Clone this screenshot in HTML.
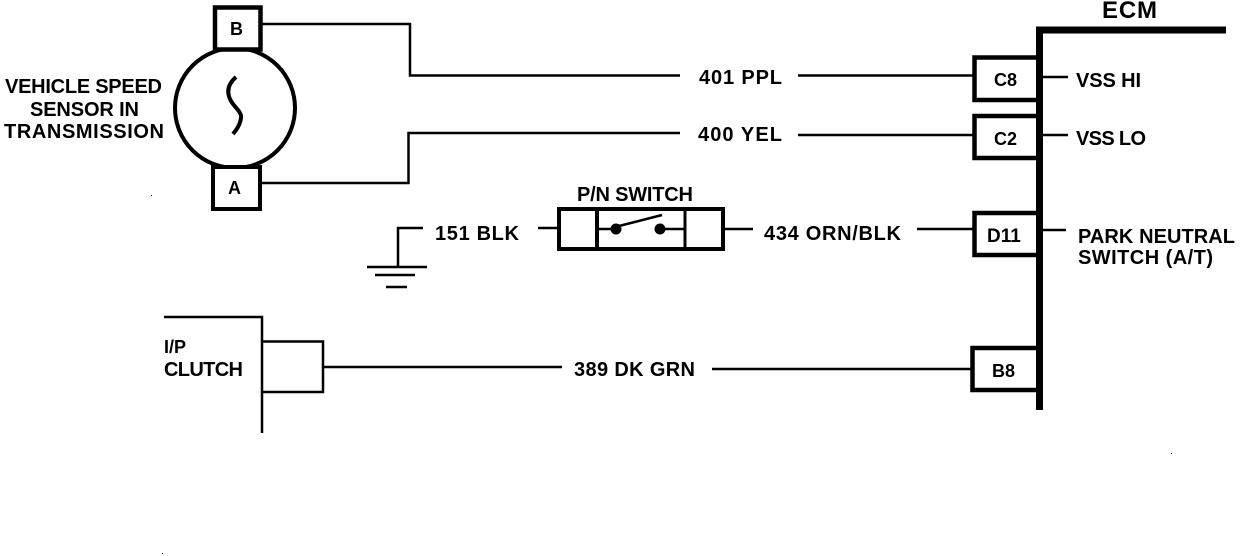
<!DOCTYPE html>
<html>
<head>
<meta charset="utf-8">
<style>
html,body{margin:0;padding:0;background:#fff;width:1248px;height:556px;overflow:hidden}
svg{display:block}
text{font-family:"Liberation Sans",sans-serif;font-weight:bold;fill:#000;font-size:20px}
</style>
</head>
<body>
<svg width="1248" height="556" viewBox="0 0 1248 556" xmlns="http://www.w3.org/2000/svg">
<g fill="none" stroke="#000" stroke-width="2.5">
  <!-- sensor -->
  <circle cx="235" cy="108" r="60" stroke-width="4"/>
  <rect x="215" y="7.5" width="45.5" height="42" fill="#fff" stroke-width="4.5"/>
  <rect x="213" y="167" width="47" height="42" fill="#fff" stroke-width="4"/>
  <path d="M236 77C228 84 226 92 231 101C235 108 242 112 241 118C240 125 237 129 233 134" stroke-width="4"/>
  <!-- wires -->
  <path d="M262 24H410V75.5H680"/>
  <path d="M261 183H408.5V133H680"/>
  <path d="M798 75.5H975"/>
  <path d="M798 135H975"/>
  <!-- ECM bar -->
  <path d="M1039.5 410V30H1226" stroke-width="7"/>
  <!-- ECM connectors -->
  <path d="M1038 57.5H974.5V100H1038" stroke-width="4.5"/>
  <path d="M1038 116H974.5V158H1038" stroke-width="4.5"/>
  <path d="M1038 213H974.5V255H1038" stroke-width="4.5"/>
  <path d="M1038 348H972.5V390H1038" stroke-width="4.5"/>
  <path d="M1042 77H1068"/>
  <path d="M1042 135H1068"/>
  <path d="M1042 230H1066"/>
  <!-- ground -->
  <path d="M423 228H398V267"/>
  <path d="M367 267H427"/>
  <path d="M375 275H415"/>
  <path d="M386 287H407"/>
  <path d="M538 228H558"/>
  <!-- P/N switch -->
  <rect x="559" y="209" width="164" height="40" stroke-width="4"/>
  <path d="M597 209V249" stroke-width="4"/>
  <path d="M685 209V249" stroke-width="3"/>
  <path d="M598 229H616"/>
  <path d="M661 229H684"/>
  <path d="M619 226L662 215"/>
  <circle cx="616" cy="229" r="5.5" fill="#000" stroke="none"/>
  <circle cx="660" cy="229" r="5.5" fill="#000" stroke="none"/>
  <path d="M725 229H753"/>
  <path d="M917 229H975"/>
  <!-- clutch -->
  <path d="M164 317H262V433"/>
  <path d="M262 341.5H323V392H262" stroke-width="2.5"/>
  <path d="M323 367H562"/>
  <path d="M712 369H973"/>
</g>
<g>
  <text x="5" y="93" textLength="157" lengthAdjust="spacing">VEHICLE SPEED</text>
  <text x="30" y="116" textLength="109" lengthAdjust="spacing">SENSOR IN</text>
  <text x="4" y="138" textLength="160" lengthAdjust="spacing">TRANSMISSION</text>
  <text x="230" y="35" style="font-size:18px">B</text>
  <text x="228" y="194" style="font-size:18px">A</text>
  <text x="699" y="84" textLength="83" lengthAdjust="spacing">401 PPL</text>
  <text x="698" y="141" textLength="84" lengthAdjust="spacing">400 YEL</text>
  <text x="435" y="240" textLength="84" lengthAdjust="spacing">151 BLK</text>
  <text x="577" y="201" textLength="116" lengthAdjust="spacing">P/N SWITCH</text>
  <text x="764" y="240" textLength="137" lengthAdjust="spacing">434 ORN/BLK</text>
  <text x="574" y="376" textLength="121" lengthAdjust="spacing">389 DK GRN</text>
  <text x="994" y="86" style="font-size:18px">C8</text>
  <text x="994" y="145" style="font-size:18px">C2</text>
  <text x="987" y="242" style="font-size:19px">D11</text>
  <text x="992" y="377" style="font-size:18px">B8</text>
  <text x="1102" y="18" style="font-size:24px" textLength="55" lengthAdjust="spacing">ECM</text>
  <text x="1076" y="87" textLength="65" lengthAdjust="spacing">VSS HI</text>
  <text x="1076" y="145" textLength="70" lengthAdjust="spacing">VSS LO</text>
  <text x="1078" y="243" textLength="157" lengthAdjust="spacing">PARK NEUTRAL</text>
  <text x="1078" y="264" textLength="135" lengthAdjust="spacing">SWITCH (A/T)</text>
  <text x="164" y="353" style="font-size:18px">I/P</text>
  <text x="164" y="376" textLength="79" lengthAdjust="spacing">CLUTCH</text>
</g>
<g fill="#000">
  <rect x="151" y="195" width="1" height="1"/>
  <rect x="1171" y="453" width="1" height="1"/>
  <rect x="162" y="553" width="1" height="1"/>
</g>
</svg>
</body>
</html>
